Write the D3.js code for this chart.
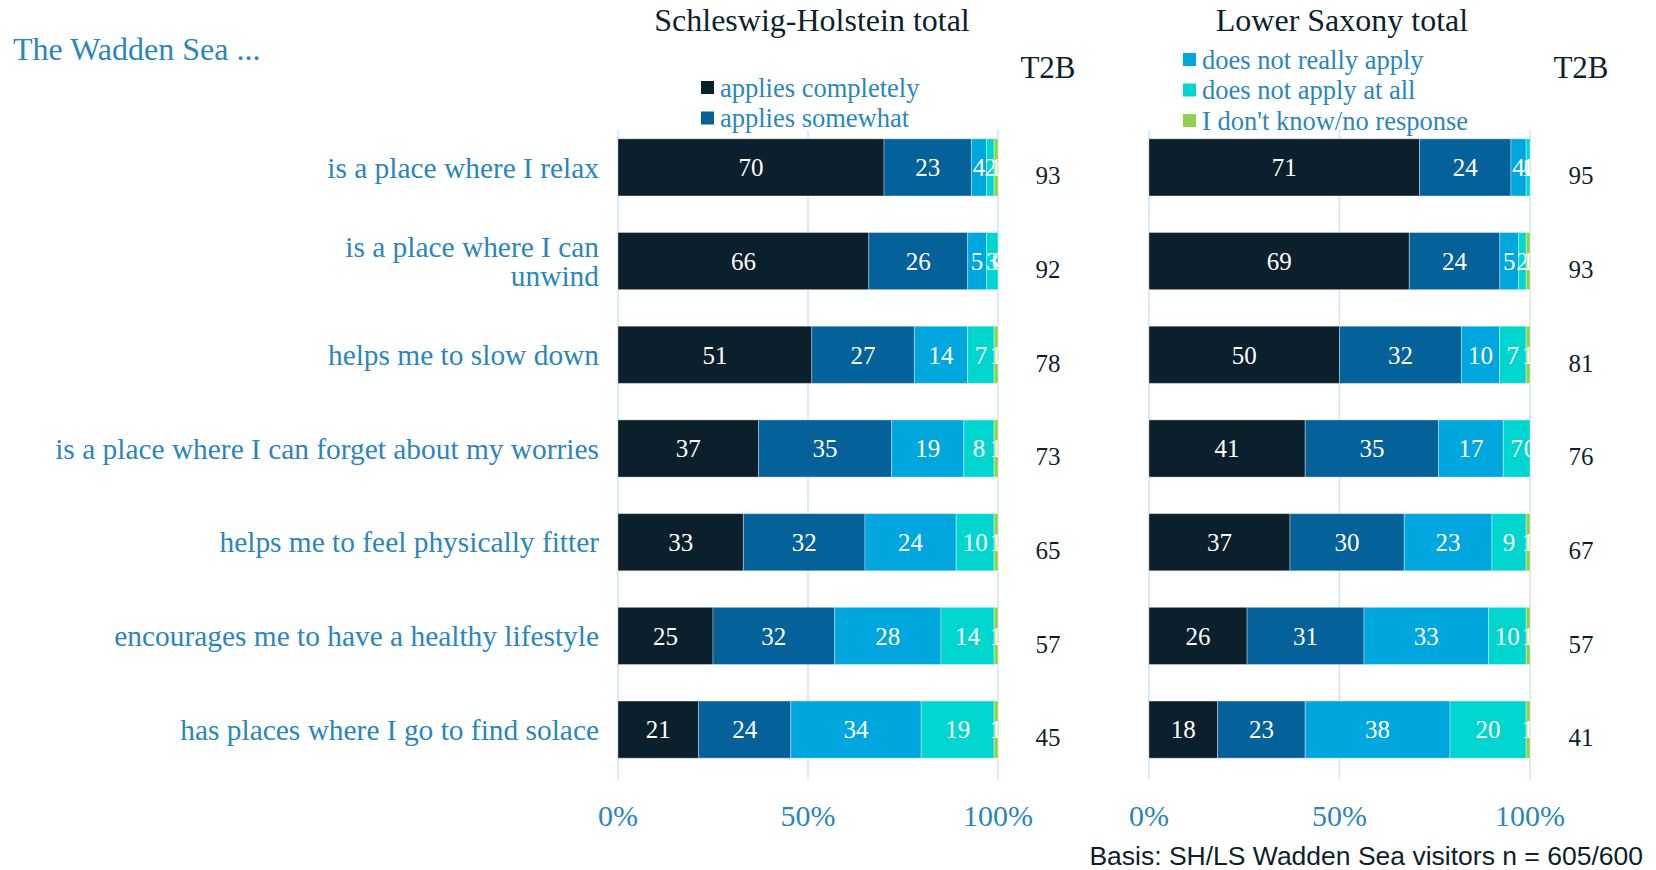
<!DOCTYPE html>
<html>
  <head>
    <meta charset="utf-8">
    <script src="https://d3js.org/d3.v7.min.js"></script>
    <title>Wadden Sea</title>
    <style>
      body { margin: 0px; background: #fff; }
      text { font-family: "Liberation Serif", "Times New Roman", serif; }
      .cat-label, .tick-label, .legend-label, .intro { fill: #2a86bd; }
      .panel-title, .t2b, .t2b-head { fill: #0d1f2d; }
      .seg-label { fill: #fff; }
      .note { font-family: "Liberation Sans", Arial, sans-serif; fill: #0d1f2d; }
    </style>
  </head>
  <body>
    <svg width="1656" height="870"></svg>
    <script>
      const categories = [
        'is a place where I relax',
        'is a place where I can unwind',
        'helps me to slow down',
        'is a place where I can forget about my worries',
        'helps me to feel physically fitter',
        'encourages me to have a healthy lifestyle',
        'has places where I go to find solace'
      ];
      const seriesNames = ['applies completely', 'applies somewhat', 'does not really apply',
        'does not apply at all', "I don't know/no response"];
      const seriesColors = ['#0b1f2c', '#05619a', '#00a7df', '#00d6cf', '#8fd14f'];

      // rows = categories, columns = series
      const shValues = [
        [70, 23, 4, 2, 1],
        [66, 26, 5, 3, 0],
        [51, 27, 14, 7, 1],
        [37, 35, 19, 8, 1],
        [33, 32, 24, 10, 1],
        [25, 32, 28, 14, 1],
        [21, 24, 34, 19, 1]
      ];
      const lsValues = [
        [71, 24, 4, 1, 0],
        [69, 24, 5, 2, 1],
        [50, 32, 10, 7, 1],
        [41, 35, 17, 7, 0],
        [37, 30, 23, 9, 1],
        [26, 31, 33, 10, 1],
        [18, 23, 38, 20, 1]
      ];
      const shT2B = [93, 92, 78, 73, 65, 57, 45];
      const lsT2B = [95, 93, 81, 76, 67, 57, 41];
      const xTicks = [0, 50, 100];

      const svg = d3.select('svg');

      const yScale = d3.scaleBand()
        .domain(categories)
        .range([121, 776])
        .paddingInner(0.39)
        .paddingOuter(0.19);

      const panels = [
        { title: 'Schleswig-Holstein total', values: shValues, t2b: shT2B, x0: 618, x1: 998, t2bX: 1048,
          titleX: 812, legend: [0, 1], legendX: 701, legendY: 88 },
        { title: 'Lower Saxony total', values: lsValues, t2b: lsT2B, x0: 1149, x1: 1530, t2bX: 1581,
          titleX: 1342, legend: [2, 3, 4], legendX: 1183, legendY: 60 }
      ];

      const defs = svg.append('defs');

      panels.forEach((p, pi) => {
        const xScale = d3.scaleLinear().domain([0, 100]).range([p.x0, p.x1]);
        const g = svg.append('g');

        // gridlines
        g.selectAll('.grid').data(xTicks).enter().append('line')
          .attr('x1', d => xScale(d)).attr('x2', d => xScale(d))
          .attr('y1', 130).attr('y2', 779)
          .attr('stroke', '#cfe3f3').attr('stroke-width', 1.5);

        // stacked, normalised to 100%
        const rows = p.values.map((vals, i) => {
          const total = d3.sum(vals);
          let acc = 0;
          return vals.map((v, s) => {
            const start = acc / total * 100;
            acc += v;
            return { cat: categories[i], s, v, start, end: acc / total * 100 };
          });
        });

        const clipId = 'clip' + pi;
        defs.append('clipPath').attr('id', clipId).append('rect')
          .attr('x', p.x0).attr('y', 0).attr('width', p.x1 - p.x0 + 1).attr('height', 870);

        const barG = g.append('g').attr('clip-path', `url(#${clipId})`);
        const segs = barG.selectAll('.row').data(rows).enter().append('g')
          .selectAll('g').data(d => d).enter().append('g');

        segs.append('rect')
          .attr('x', d => xScale(d.start))
          .attr('y', d => yScale(d.cat))
          .attr('width', d => xScale(d.end) - xScale(d.start))
          .attr('height', yScale.bandwidth())
          .attr('fill', d => seriesColors[d.s])
          .attr('stroke', 'rgba(255,255,255,0.35)')
          .attr('stroke-width', 1);

        segs.append('text')
          .attr('class', 'seg-label')
          .attr('x', d => (xScale(d.start) + xScale(d.end)) / 2)
          .attr('y', d => yScale(d.cat) + yScale.bandwidth() / 2)
          .attr('dy', '0.35em')
          .attr('text-anchor', 'middle')
          .style('font-size', '25px')
          .text(d => d.v);

        // x tick labels
        g.selectAll('.tick-label').data(xTicks).enter().append('text')
          .attr('class', 'tick-label')
          .attr('x', d => xScale(d))
          .attr('y', 826)
          .attr('text-anchor', 'middle')
          .style('font-size', '30px')
          .text(d => d + '%');

        // title
        g.append('text')
          .attr('class', 'panel-title')
          .attr('x', p.titleX)
          .attr('y', 31)
          .attr('text-anchor', 'middle')
          .style('font-size', '32px')
          .text(p.title);

        // T2B column
        g.append('text')
          .attr('class', 't2b-head')
          .attr('x', p.t2bX)
          .attr('y', 78)
          .attr('text-anchor', 'middle')
          .style('font-size', '31px')
          .text('T2B');

        g.selectAll('.t2b').data(p.t2b).enter().append('text')
          .attr('class', 't2b')
          .attr('x', p.t2bX)
          .attr('y', (d, i) => yScale(categories[i]) + yScale.bandwidth() / 2 + 8)
          .attr('dy', '0.35em')
          .attr('text-anchor', 'middle')
          .style('font-size', '25px')
          .text(d => d);

        // legend part
        const lg = g.selectAll('.legend').data(p.legend).enter().append('g')
          .attr('transform', (d, i) => `translate(${p.legendX},${p.legendY + i * 30.5})`);
        lg.append('rect')
          .attr('x', 0).attr('y', -7).attr('width', 13).attr('height', 13)
          .attr('fill', d => seriesColors[d]);
        lg.append('text')
          .attr('class', 'legend-label')
          .attr('x', 19)
          .attr('dy', '0.33em')
          .style('font-size', '26.5px')
          .text(d => seriesNames[d]);
      });

      // category labels
      const catG = svg.append('g');
      catG.selectAll('text').data(categories).enter().append('text')
        .attr('class', 'cat-label')
        .attr('x', 599)
        .attr('y', d => yScale(d) + yScale.bandwidth() / 2)
        .attr('text-anchor', 'end')
        .style('font-size', '29.4px')
        .each(function (d) {
          const t = d3.select(this);
          const lines = d === 'is a place where I can unwind' ? ['is a place where I can', 'unwind'] : [d];
          lines.forEach((l, i) => {
            t.append('tspan')
              .attr('x', 599)
              .attr('dy', i === 0 ? ((0.35 - (lines.length - 1) * 0.5) + 'em') : '1.0em')
              .text(l);
          });
        });

      svg.append('text')
        .attr('class', 'intro')
        .attr('x', 13).attr('y', 60)
        .style('font-size', '32px')
        .text('The Wadden Sea ...');

      svg.append('text')
        .attr('class', 'note')
        .attr('x', 1643).attr('y', 865)
        .attr('text-anchor', 'end')
        .style('font-size', '26.5px')
        .text('Basis: SH/LS Wadden Sea visitors n = 605/600');
    </script>
  </body>
</html>
